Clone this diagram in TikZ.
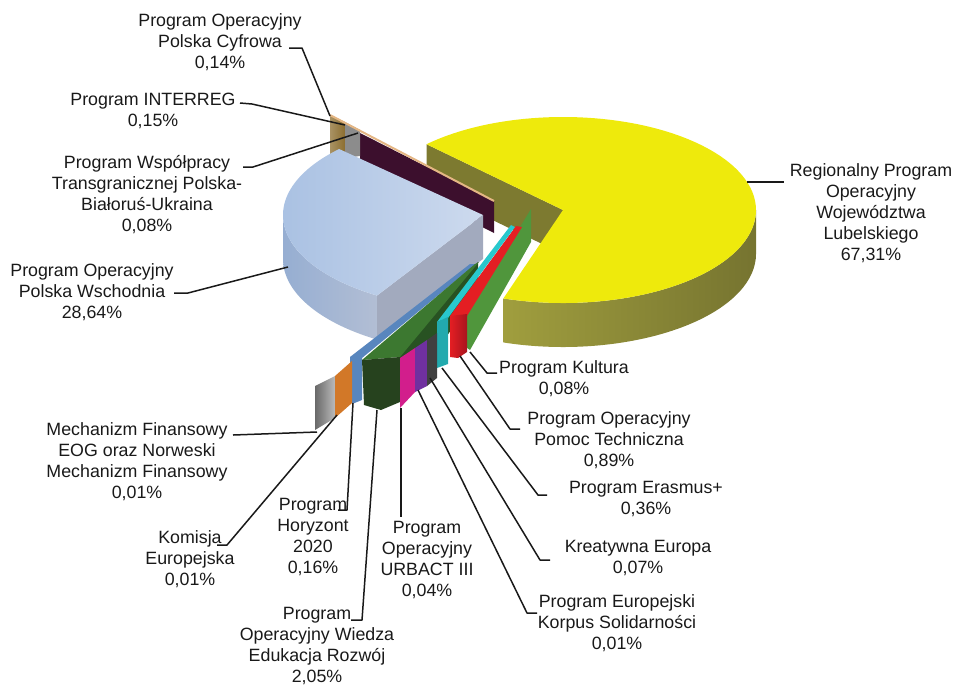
\documentclass[tikz,border=0pt]{standalone}
\usepackage{fontspec}
\setmainfont{Liberation Sans}

\definecolor{yel}{RGB}{238,234,12}
\definecolor{yelside}{RGB}{160,158,62}
\definecolor{yelmid}{RGB}{100,98,42}
\definecolor{yeldark}{RGB}{118,116,48}
\definecolor{yelwall}{RGB}{125,122,48}
\definecolor{bluetop}{RGB}{205,218,238}
\definecolor{bluetop2}{RGB}{168,192,226}
\definecolor{blueside}{RGB}{150,174,210}
\definecolor{blueside2}{RGB}{178,190,212}
\definecolor{bluewall}{RGB}{162,170,190}
\definecolor{plum}{RGB}{60,15,45}
\definecolor{bronze}{RGB}{140,110,48}
\definecolor{peach}{RGB}{228,182,132}
\definecolor{leaf}{RGB}{80,150,60}
\definecolor{cyanish}{RGB}{40,200,205}
\definecolor{redish}{RGB}{228,30,35}
\definecolor{darkred}{RGB}{168,20,30}
\definecolor{steel}{RGB}{88,134,190}
\definecolor{forest}{RGB}{60,120,48}
\definecolor{forestdark}{RGB}{38,66,30}
\definecolor{forestwall}{RGB}{40,82,34}
\definecolor{magentaish}{RGB}{210,30,140}
\definecolor{violet}{RGB}{112,48,160}
\definecolor{coal}{RGB}{64,64,64}
\definecolor{orangeish}{RGB}{210,120,40}
\definecolor{greyish}{RGB}{140,140,140}

\begin{document}
\begin{tikzpicture}[x=1pt, y=-1pt,
    txt/.style={align=center, inner sep=0pt, text=black!90,
        font=\fontsize{17.8}{21}\selectfont},
    leader/.style={line width=1.5pt, black!90, line join=round}
]
    \useasboundingbox (0,0) rectangle (957,686);

    % Regionalny Program Operacyjny
    \fill[yelwall] (563,210) -- ++(-135:193 and 93) -- ++(0,44) -- (563,254) -- cycle;
    \shade[left color=yelside, middle color=yelmid, right color=yeldark]
        (756,210) arc[start angle=0, end angle=108, x radius=193, y radius=93]
        -- ++(0,44) arc[start angle=108, end angle=0, x radius=193, y radius=93] -- cycle;
    \fill[yel] (563,210) -- ++(-135:193 and 93)
        arc[start angle=-135, end angle=108, x radius=193, y radius=93] -- cycle;

    % small slices at the back
    \fill[plum] (360,133) -- (494,201) -- (494,233) -- (360,165) -- cycle;
    \shade[left color=bronze!75!white, right color=bronze] (330,115) -- (345,122) -- (345,158) -- (330,154) -- cycle;
    \fill[greyish] (345,122) -- (360,130) -- (360,156) -- (345,158) -- cycle;
    \draw[peach, line width=2pt] (330,115) -- (494,201);

    % Polska Wschodnia
    \shade[left color=blueside, right color=blueside2]
        (283,215) arc[start angle=180, end angle=122, x radius=200, y radius=95]
        -- ++(0,44) arc[start angle=122, end angle=180, x radius=200, y radius=95] -- cycle;
    \fill[bluewall] (483,215) -- ++(122:200 and 95) -- ++(0,44) -- (483,259) -- cycle;
    \shade[left color=bluetop2, right color=bluetop] (483,215) -- ++(-136:200 and 95)
        arc[start angle=-136, end angle=-238, x radius=200, y radius=95] -- cycle;

    % small slices at the front
    \fill[steel] (350,357) -- (470,264) -- (476,264) -- (362,358) -- (362,400) -- (352,404) -- cycle;
    \fill[forestwall] (400,356) -- (478,262) -- (478,292) -- (400,402) -- cycle;
    \fill[forest] (362,360) -- (475,264) -- (479,262) -- (400,357) -- cycle;
    \fill[forestdark] (362,360) -- (400,357) -- (400,402) -- (381,410) -- (364,405) -- cycle;
    \fill[leaf] (531,209) -- (531,242) -- (470,350) -- (463,345) -- (463,318) -- (520,227) -- cycle;
    \fill[redish] (516,226) -- (522,227) -- (467,316) -- (450,316) -- cycle;
    \shade[left color=redish, right color=darkred] (450,316) -- (467,314) -- (467,352) -- (458,358) -- (450,357) -- cycle;
    \fill[cyanish] (511,225) -- (515,227) -- (448,318) -- (437,322) -- cycle;
    \fill[cyanish!85!black] (437,322) -- (448,317) -- (448,364) -- (437,368) -- cycle;
    \shade[left color=greyish!75!black, right color=greyish!60!white] (315,386) -- (335,376) -- (335,418) -- (315,430) -- cycle;
    \fill[orangeish] (335,376) -- (352,361) -- (352,403) -- (335,418) -- cycle;
    \fill[magentaish] (400,358) -- (415,348) -- (415,392) -- (400,408) -- cycle;
    \fill[violet] (415,348) -- (427,340) -- (427,386) -- (415,392) -- cycle;
    \fill[coal] (427,340) -- (437,333) -- (437,378) -- (427,386) -- cycle;

    % labels
    \node[txt] (cyf) at (220,42) {Program Operacyjny\\Polska Cyfrowa\\0,14\%};
    \node[txt] (intr) at (153,111) {Program INTERREG\\0,15\%};
    \node[txt] (wsp) at (147,195) {Program Współpracy\\Transgranicznej Polska-\\Białoruś-Ukraina\\0,08\%};
    \node[txt] (wsch) at (92,292) {Program Operacyjny\\Polska Wschodnia\\28,64\%};
    \node[txt] (rpo) at (871,213) {Regionalny Program\\Operacyjny\\Województwa\\Lubelskiego\\67,31\%};
    \node[txt] (kul) at (564,379) {Program Kultura\\0,08\%};
    \node[txt] (pom) at (609,440) {Program Operacyjny\\Pomoc Techniczna\\0,89\%};
    \node[txt] (era) at (646,499) {Program Erasmus+\\0,36\%};
    \node[txt] (kre) at (638,558) {Kreatywna Europa\\0,07\%};
    \node[txt] (kor) at (617,623) {Program Europejski\\Korpus Solidarności\\0,01\%};
    \node[txt] (urb) at (427,560) {Program\\Operacyjny\\URBACT III\\0,04\%};
    \node[txt] (wie) at (317,646) {Program\\Operacyjny Wiedza\\Edukacja Rozwój\\2,05\%};
    \node[txt] (hor) at (313,537) {Program\\Horyzont\\2020\\0,16\%};
    \node[txt] (kom) at (190,559) {Komisja\\Europejska\\0,01\%};
    \node[txt] (mech) at (137,462) {Mechanizm Finansowy\\EOG oraz Norweski\\Mechanizm Finansowy\\0,01\%};

    % leader ends
    \coordinate (cyfP) at (330,116);   \coordinate (cyfA) at (289,48);  \coordinate (cyfB) at (302,48);
    \coordinate (intrP) at (345,125);  \coordinate (intrA) at (240,103); \coordinate (intrB) at (252,104);
    \coordinate (wspP) at (358,133);   \coordinate (wspA) at (243,167);  \coordinate (wspB) at (253,167);
    \coordinate (wschP) at (288,267);  \coordinate (wschA) at (174,293); \coordinate (wschB) at (188,293);
    \coordinate (rpoP) at (747,182);   \coordinate (rpoA) at (784,182);
    \coordinate (kulP) at (470,352);   \coordinate (kulA) at (487,373);  \coordinate (kulB) at (497,373);
    \coordinate (pomP) at (460,356);   \coordinate (pomA) at (510,429);  \coordinate (pomB) at (520,429);
    \coordinate (eraP) at (442,368);   \coordinate (eraA) at (538,495);  \coordinate (eraB) at (547,495);
    \coordinate (kreP) at (430,378);   \coordinate (kreA) at (540,560);  \coordinate (kreB) at (550,560);
    \coordinate (korP) at (418,390);   \coordinate (korA) at (527,613);  \coordinate (korB) at (537,613);
    \coordinate (urbP) at (401,408);   \coordinate (urbA) at (401,517);
    \coordinate (wieP) at (377,410);   \coordinate (wieA) at (362,620);  \coordinate (wieB) at (351,620);
    \coordinate (horP) at (353,403);   \coordinate (horA) at (347,510);  \coordinate (horB) at (338,510);
    \coordinate (komP) at (337,415);   \coordinate (komA) at (227,545);  \coordinate (komB) at (217,545);
    \coordinate (mechP) at (317,432);  \coordinate (mechA) at (233,435);

    \draw[leader] (cyfA) -- (cyfB) -- (cyfP);
    \draw[leader] (intrA) -- (intrB) -- (intrP);
    \draw[leader] (wspA) -- (wspB) -- (wspP);
    \draw[leader] (wschA) -- (wschB) -- (wschP);
    \draw[leader] (rpoP) -- (rpoA);
    \draw[leader] (kulP) -- (kulA) -- (kulB);
    \draw[leader] (pomP) -- (pomA) -- (pomB);
    \draw[leader] (eraP) -- (eraA) -- (eraB);
    \draw[leader] (kreP) -- (kreA) -- (kreB);
    \draw[leader] (korP) -- (korA) -- (korB);
    \draw[leader] (urbP) -- (urbA);
    \draw[leader] (wieP) -- (wieA) -- (wieB);
    \draw[leader] (horP) -- (horA) -- (horB);
    \draw[leader] (komP) -- (komA) -- (komB);
    \draw[leader] (mechP) -- (mechA);
\end{tikzpicture}
\end{document}
